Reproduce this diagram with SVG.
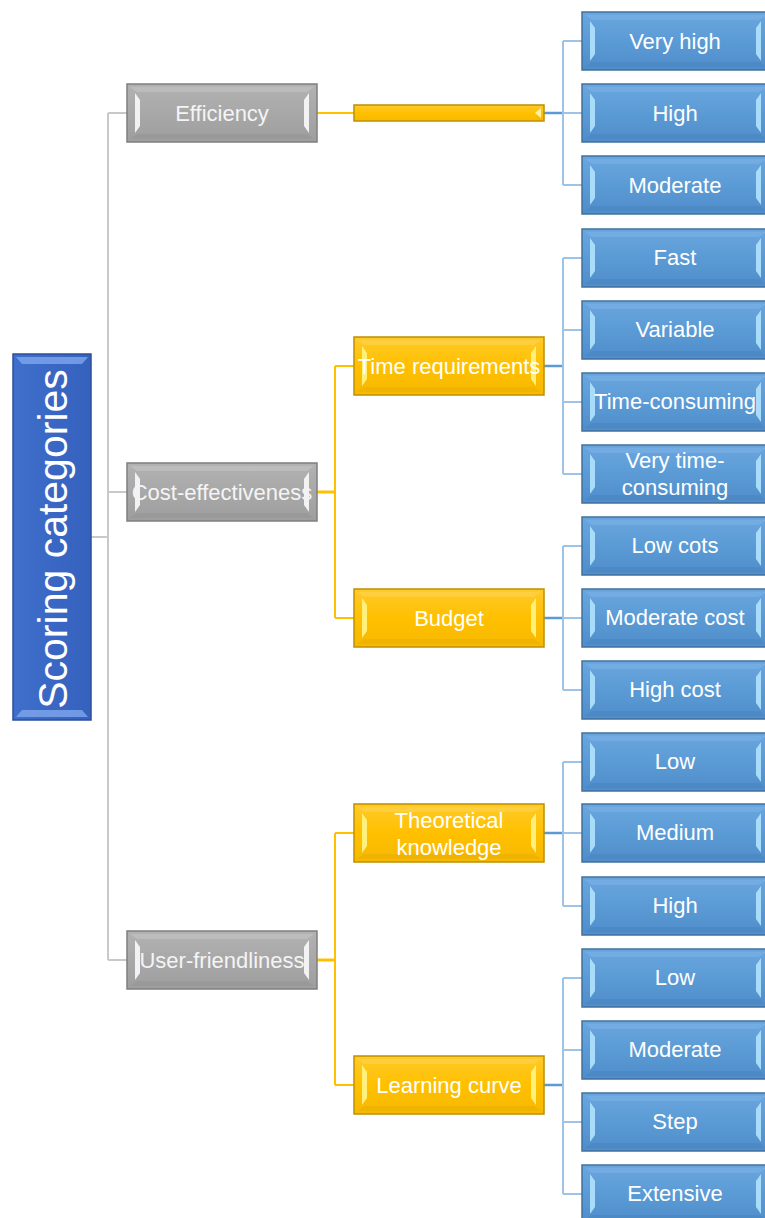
<svg xmlns="http://www.w3.org/2000/svg" xmlns:xlink="http://www.w3.org/1999/xlink" width="765" height="1218" viewBox="0 0 765 1218">
<style>
  text { font-family: "Liberation Sans", Arial, sans-serif; font-size: 22px; fill: #ffffff; text-anchor: middle; dominant-baseline: central; }
  .gtxt { fill: #f4f4f4; }
  .root { font-size: 41px; }
  .cg { fill: none; stroke: #c9c9c9; stroke-width: 2; }
  .cy { fill: none; stroke: #ffc000; stroke-width: 2; }
  .cyt { fill: none; stroke: #ffc000; stroke-width: 3; }
  .cb { fill: none; stroke: #5b9bd5; stroke-width: 2.5; }
  .cbl { fill: none; stroke: #9dc3e6; stroke-width: 2; }
</style>
<defs>
  <linearGradient id="gBlue" x1="0" y1="0" x2="0" y2="1">
    <stop offset="0" stop-color="#6aa6df"/>
    <stop offset="0.5" stop-color="#5b9bd5"/>
    <stop offset="1" stop-color="#4f8dca"/>
  </linearGradient>
  <linearGradient id="gGray" x1="0" y1="0" x2="0" y2="1">
    <stop offset="0" stop-color="#b2b2b2"/>
    <stop offset="0.5" stop-color="#a8a8a8"/>
    <stop offset="1" stop-color="#9e9e9e"/>
  </linearGradient>
  <linearGradient id="gYel" x1="0" y1="0" x2="0" y2="1">
    <stop offset="0" stop-color="#ffca2a"/>
    <stop offset="0.5" stop-color="#ffc000"/>
    <stop offset="1" stop-color="#f7b900"/>
  </linearGradient>
  <linearGradient id="gRoot" x1="0" y1="0" x2="1" y2="0">
    <stop offset="0" stop-color="#3f6fcc"/>
    <stop offset="0.5" stop-color="#3a67c4"/>
    <stop offset="1" stop-color="#3462bd"/>
  </linearGradient>
  <g id="shapeBlue">
    <rect x="0" y="0" width="187" height="58" fill="url(#gBlue)" stroke="#41719c" stroke-width="1.5"/>
    <polygon points="3,3 184,3 177,8 10,8" fill="#8fc0ee" opacity="0.3"/>
    <polygon points="8,9 13,16 13,42 8,49" fill="#a9dcfb"/>
    <polygon points="179,9 174,16 174,42 179,49" fill="#a9dcfb"/>
    <polygon points="3,55 184,55 177,50 10,50" fill="#3f78b0" opacity="0.25"/>
  </g>
  <g id="shapeGray">
    <rect x="0" y="0" width="190" height="58" fill="url(#gGray)" stroke="#7f7f7f" stroke-width="1.5"/>
    <polygon points="3,3 187,3 180,8 10,8" fill="#cfcfcf" opacity="0.4"/>
    <polygon points="8,9 13,16 13,42 8,49" fill="#f2f2f2"/>
    <polygon points="182,9 177,16 177,42 182,49" fill="#f2f2f2"/>
    <polygon points="3,55 187,55 180,50 10,50" fill="#8a8a8a" opacity="0.3"/>
  </g>
  <g id="shapeYel">
    <rect x="0" y="0" width="190" height="58" fill="url(#gYel)" stroke="#bf9000" stroke-width="1.5"/>
    <polygon points="3,3 187,3 180,8 10,8" fill="#ffd966" opacity="0.4"/>
    <polygon points="8,9 13,16 13,42 8,49" fill="#fff07a"/>
    <polygon points="182,9 177,16 177,42 182,49" fill="#fff07a"/>
    <polygon points="3,55 187,55 180,50 10,50" fill="#d9a300" opacity="0.3"/>
  </g>
</defs>

<g id="connectors">
  <path class="cg" d="M91 537 H108 M108 113 V960 M108 113 H127 M108 492 H127 M108 960 H127"/>
  <path class="cy" d="M317 113 H354"/>
  <path class="cyt" d="M317 492 H335 M317 960 H335"/>
  <path class="cy" d="M335 366 V618 M335 366 H354 M335 618 H354"/>
  <path class="cy" d="M335 833 V1085 M335 833 H354 M335 1085 H354"/>
  <path class="cb" d="M544 113 H563 M544 366 H563 M544 618 H563 M544 833 H563 M544 1085 H563"/>
  <path class="cbl" d="M563 41 V185 M563 41 H582 M563 113 H582 M563 185 H582"/>
  <path class="cbl" d="M563 258 V474 M563 258 H582 M563 330 H582 M563 402 H582 M563 474 H582"/>
  <path class="cbl" d="M563 546 V690 M563 546 H582 M563 618 H582 M563 690 H582"/>
  <path class="cbl" d="M563 762 V906 M563 762 H582 M563 833 H582 M563 906 H582"/>
  <path class="cbl" d="M563 978 V1194 M563 978 H582 M563 1050 H582 M563 1122 H582 M563 1194 H582"/>
</g>

<g id="n-root">
  <rect x="13" y="354" width="78" height="366" fill="url(#gRoot)" stroke="#2c4f9a" stroke-width="1.5"/>
  <polygon points="16,357 88,357 82,364 22,364" fill="#7fa6ec" opacity="0.8"/>
  <polygon points="16,717 88,717 82,710 22,710" fill="#7fa6ec" opacity="0.8"/>
  <text class="root" transform="translate(53 539) rotate(-90)">Scoring categories</text>
</g>

<g id="n-efficiency"><use xlink:href="#shapeGray" x="127" y="84"/><text class="gtxt" x="222" y="113">Efficiency</text></g>
<g id="n-cost"><use xlink:href="#shapeGray" x="127" y="463"/><text class="gtxt" x="222" y="492">Cost-effectiveness</text></g>
<g id="n-user"><use xlink:href="#shapeGray" x="127" y="931"/><text class="gtxt" x="222" y="960">User-friendliness</text></g>

<g id="n-effbar">
  <rect x="354" y="105" width="190" height="16" fill="url(#gYel)" stroke="#bf9000" stroke-width="1.5"/>
  <polygon points="541,108 535,113 541,118" fill="#fff2a8"/>
</g>
<g id="n-time"><use xlink:href="#shapeYel" x="354" y="337"/><text x="449" y="366">Time requirements</text></g>
<g id="n-budget"><use xlink:href="#shapeYel" x="354" y="589"/><text x="449" y="618">Budget</text></g>
<g id="n-theory"><use xlink:href="#shapeYel" x="354" y="804"/><text x="449" y="820">Theoretical</text><text x="449" y="847">knowledge</text></g>
<g id="n-learning"><use xlink:href="#shapeYel" x="354" y="1056"/><text x="449" y="1085">Learning curve</text></g>

<g id="n-veryhigh"><use xlink:href="#shapeBlue" x="582" y="12"/><text x="675" y="41">Very high</text></g>
<g id="n-high1"><use xlink:href="#shapeBlue" x="582" y="84"/><text x="675" y="113">High</text></g>
<g id="n-moderate1"><use xlink:href="#shapeBlue" x="582" y="156"/><text x="675" y="185">Moderate</text></g>
<g id="n-fast"><use xlink:href="#shapeBlue" x="582" y="229"/><text x="675" y="257">Fast</text></g>
<g id="n-variable"><use xlink:href="#shapeBlue" x="582" y="301"/><text x="675" y="329">Variable</text></g>
<g id="n-timeconsuming"><use xlink:href="#shapeBlue" x="582" y="373"/><text x="675" y="401">Time-consuming</text></g>
<g id="n-verytime"><use xlink:href="#shapeBlue" x="582" y="445"/><text x="675" y="460">Very time-</text><text x="675" y="487">consuming</text></g>
<g id="n-lowcots"><use xlink:href="#shapeBlue" x="582" y="517"/><text x="675" y="545">Low cots</text></g>
<g id="n-modcost"><use xlink:href="#shapeBlue" x="582" y="589"/><text x="675" y="617">Moderate cost</text></g>
<g id="n-highcost"><use xlink:href="#shapeBlue" x="582" y="661"/><text x="675" y="689">High cost</text></g>
<g id="n-low1"><use xlink:href="#shapeBlue" x="582" y="733"/><text x="675" y="761">Low</text></g>
<g id="n-medium"><use xlink:href="#shapeBlue" x="582" y="804"/><text x="675" y="832">Medium</text></g>
<g id="n-high2"><use xlink:href="#shapeBlue" x="582" y="877"/><text x="675" y="905">High</text></g>
<g id="n-low2"><use xlink:href="#shapeBlue" x="582" y="949"/><text x="675" y="977">Low</text></g>
<g id="n-moderate2"><use xlink:href="#shapeBlue" x="582" y="1021"/><text x="675" y="1049">Moderate</text></g>
<g id="n-step"><use xlink:href="#shapeBlue" x="582" y="1093"/><text x="675" y="1121">Step</text></g>
<g id="n-extensive"><use xlink:href="#shapeBlue" x="582" y="1165"/><text x="675" y="1193">Extensive</text></g>
</svg>
